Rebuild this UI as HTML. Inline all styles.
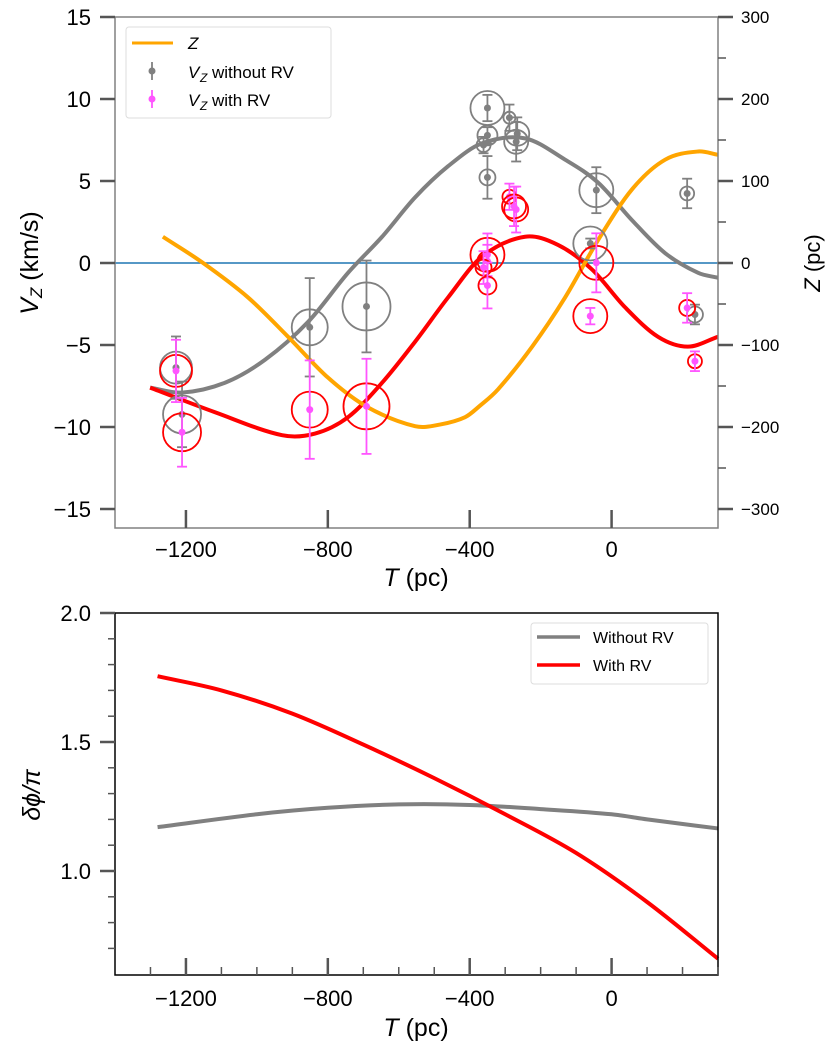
<!DOCTYPE html>
<html><head><meta charset="utf-8"><style>
html,body{margin:0;padding:0;background:#fff}
svg{display:block;font-family:"Liberation Sans","DejaVu Sans",sans-serif}
</style></head><body>
<svg id="fig" width="831" height="1049" viewBox="0 0 831 1049" xmlns="http://www.w3.org/2000/svg">
<g id="top"></g>
<g id="bot"></g>
</svg>
<script>
// ---- data: top panel ----
const grayCurveT = [-1301,-1211,-1090,-977,-856,-743,-647,-554,-461,-365,-244,-131,-38,58,151,244,300];
const grayCurveV = [-7.6,-7.9,-7.3,-5.9,-3.6,-0.6,1.6,4.0,5.9,7.3,7.6,6.3,4.9,2.6,0.6,-0.6,-0.9];
const redCurveT = [-1301,-1118,-929,-836,-743,-647,-554,-461,-365,-244,-151,-55,38,131,215,300];
const redCurveV = [-7.6,-9.1,-10.5,-10.4,-9.4,-7.3,-4.8,-2.1,0.4,1.6,1.1,-0.4,-2.7,-4.5,-5.1,-4.5];
const zCurveT = [-1265,-1155,-1025,-912,-799,-687,-554,-484,-413,-371,-320,-224,-131,-38,58,151,244,300];
const zCurveZ = [32,1,-42,-90,-140,-176,-199,-197,-188,-174,-154,-102,-42,28,90,126,136,132];
const grayT = [-1228,-1211,-851,-691,-350,-288,-350,-361,-266,-269,-350,-43,-60,213,235];
const grayV = [-6.38,-9.23,-3.92,-2.65,9.45,8.86,7.78,7.19,7.88,7.39,5.22,4.44,1.19,4.24,-3.14];
const grayErr = [1.9,2.0,3.0,2.8,0.8,0.8,0.5,0.5,1.0,1.2,1.3,1.4,0.3,0.9,0.6];
const grayR = [16,19,18,24,17,6,10,7,12,12,8,17,17,7,8];
const magT = [-1228,-1211,-851,-691,-288,-269,-275,-350,-350,-361,-350,-43,-60,213,235];
const magV = [-6.58,-10.32,-8.94,-8.74,4.04,3.26,3.45,0.50,0.11,-0.28,-1.37,0.01,-3.24,-2.74,-5.99];
const magErr = [1.9,2.1,3.0,2.9,0.8,1.4,1.2,1.3,1.0,1.0,1.4,1.8,0.5,0.9,0.6];
const magR = [16,19,18,23,7,12,12,17,10,8,9,17,17,8,7];
const xTicks = [-1200,-800,-400,0];
const vTicks = [15,10,5,0,-5,-10,-15];
const zTicks = [300,200,100,0,-100,-200,-300];
// ---- data: bottom panel ----
const phiGrayT = [-1280,-1000,-800,-600,-400,-200,0,100,300];
const phiGrayV = [1.17,1.22,1.245,1.258,1.256,1.24,1.22,1.20,1.165];
const phiRedT = [-1280,-1100,-900,-700,-500,-300,-100,100,300];
const phiRedV = [1.755,1.70,1.61,1.49,1.36,1.22,1.07,0.88,0.66];
const phiTicks = [2.0,1.5,1.0];

const NS="http://www.w3.org/2000/svg";
function mk(parent,tag,attrs,text){const e=document.createElementNS(NS,tag);for(const k in attrs)e.setAttribute(k,attrs[k]);if(text!==undefined)e.textContent=text;parent.appendChild(e);return e;}
const X0=115,X1=718;
const x=T=>X0+(T+1400)*(X1-X0)/1700;
const yV=V=>263-V*16.4;
const yZ=Z=>yV(Z/20);
const yP=v=>871-(v-1)*258;
function smooth(px,py){
  const n=px.length,m=[];
  for(let i=0;i<n;i++){
    const a=i?i-1:0,b=i<n-1?i+1:n-1;
    m.push((py[b]-py[a])/(px[b]-px[a]));
  }
  let d=`M${px[0]},${py[0]}`;
  for(let i=0;i<n-1;i++){
    const h=(px[i+1]-px[i])/3;
    d+=`C${px[i]+h},${py[i]+m[i]*h} ${px[i+1]-h},${py[i+1]-m[i+1]*h} ${px[i+1]},${py[i+1]}`;
  }
  return d;
}

const topG=document.getElementById('top');
const TB=528,TT=17;
let e=mk(topG,'line',{x1:X0,x2:X1,y1:yV(0),y2:yV(0),stroke:'#1f77b4','stroke-width':1.5});


e=mk(topG,'path',{d:smooth(grayCurveT.map(x),grayCurveV.map(yV)),fill:'none',stroke:'#808080','stroke-width':4});


e=mk(topG,'path',{d:smooth(redCurveT.map(x),redCurveV.map(yV)),fill:'none',stroke:'#ff0000','stroke-width':4});


e=mk(topG,'path',{d:smooth(zCurveT.map(x),zCurveZ.map(yZ)),fill:'none',stroke:'#ffa500','stroke-width':4});


function points(Ts,Vs,Es,Rs,circ,col,name){
  for(let i=0;i<Ts.length;i++){
    const g=mk(topG,'g',{});
    
    
    const cx=x(Ts[i]),cy=yV(Vs[i]),y1=yV(Vs[i]+Es[i]),y2=yV(Vs[i]-Es[i]);
    mk(g,'circle',{cx:cx,cy:cy,r:Rs[i],fill:'none',stroke:circ,'stroke-width':1.8});
    mk(g,'line',{x1:cx,x2:cx,y1:y1,y2:y2,stroke:col,'stroke-width':1.8});
    mk(g,'line',{x1:cx-5,x2:cx+5,y1:y1,y2:y1,stroke:col,'stroke-width':1.8});
    mk(g,'line',{x1:cx-5,x2:cx+5,y1:y2,y2:y2,stroke:col,'stroke-width':1.8});
    mk(g,'circle',{cx:cx,cy:cy,r:3.5,fill:col});
  }
}
points(grayT,grayV,grayErr,grayR,'#808080','#808080','vz-without-rv-point');
points(magT,magV,magErr,magR,'#ff0000','#ff55ff','vz-with-rv-point');
e=mk(topG,'rect',{x:X0,y:TT,width:X1-X0,height:TB-TT,fill:'none',stroke:'#808080','stroke-width':1.5});


for(const t of xTicks){
  e=mk(topG,'line',{x1:x(t),x2:x(t),y1:TB,y2:TB-18,stroke:'#555','stroke-width':2.5});
  
  
  e=mk(topG,'text',{x:x(t),y:557,'text-anchor':'middle','font-size':22},String(t).replace('-','\u2212'));
  
  
}
for(const t of vTicks){
  e=mk(topG,'line',{x1:X0,x2:X0-15,y1:yV(t),y2:yV(t),stroke:'#555','stroke-width':2.5});
  
  
  e=mk(topG,'text',{x:91,y:yV(t)+8,'text-anchor':'end','font-size':22},String(t).replace('-','\u2212'));
  
  
}
for(let z=-300;z<=300;z+=50){
  const major=z%100===0;
  e=mk(topG,'line',{x1:X1,x2:X1+(major?15:8),y1:yZ(z),y2:yZ(z),stroke:'#555','stroke-width':major?2.5:1.5});
  
  
}
for(const t of zTicks){
  e=mk(topG,'text',{x:741,y:yZ(t)+6,'font-size':17},String(t).replace('-','\u2212'));
  
  
}
e=mk(topG,'text',{x:416,y:586,'text-anchor':'middle','font-size':25});


e.innerHTML='<tspan font-style="italic">T</tspan> (pc)';
e=mk(topG,'text',{transform:'translate(38,263) rotate(-90)','text-anchor':'middle','font-size':25});


e.innerHTML='<tspan font-style="italic">V</tspan><tspan font-style="italic" font-size="17" dy="4">Z</tspan><tspan dy="-4"> (km/s)</tspan>';
e=mk(topG,'text',{transform:'translate(820,263) rotate(-90)','text-anchor':'middle','font-size':22});


e.innerHTML='<tspan font-style="italic">Z</tspan> (pc)';
const lg=mk(topG,'g',{});


mk(lg,'rect',{x:126,y:27,width:205,height:91,rx:3,fill:'#fff',stroke:'#ddd','stroke-width':1});
mk(lg,'line',{x1:132,x2:173,y1:43,y2:43,stroke:'#ffa500','stroke-width':3});
mk(lg,'text',{x:188,y:49,'font-size':17,'font-style':'italic'},'Z');
mk(lg,'line',{x1:152,x2:152,y1:62,y2:80,stroke:'#808080','stroke-width':1.8});
mk(lg,'circle',{cx:152,cy:71,r:3.5,fill:'#808080'});
mk(lg,'text',{x:188,y:78,'font-size':17,'font-style':'italic'},'V');
mk(lg,'text',{x:200,y:82,'font-size':12,'font-style':'italic'},'Z');
mk(lg,'text',{x:212,y:78,'font-size':17},'without RV');
mk(lg,'line',{x1:152,x2:152,y1:90,y2:108,stroke:'#ff55ff','stroke-width':1.8});
mk(lg,'circle',{cx:152,cy:99,r:3.5,fill:'#ff55ff'});
mk(lg,'text',{x:188,y:106,'font-size':17,'font-style':'italic'},'V');
mk(lg,'text',{x:200,y:110,'font-size':12,'font-style':'italic'},'Z');
mk(lg,'text',{x:212,y:106,'font-size':17},'with RV');

// ---- bottom ----
const botG=document.getElementById('bot');
const BT=613,BB=975;
e=mk(botG,'path',{d:smooth(phiGrayT.map(x),phiGrayV.map(yP)),fill:'none',stroke:'#808080','stroke-width':4});


e=mk(botG,'path',{d:smooth(phiRedT.map(x),phiRedV.map(yP)),fill:'none',stroke:'#ff0000','stroke-width':4});


e=mk(botG,'rect',{x:X0,y:BT,width:X1-X0,height:BB-BT,fill:'none',stroke:'#000','stroke-width':1.5});


for(let t=-1300;t<=300;t+=100){
  const major=t%400===0;
  e=mk(botG,'line',{x1:x(t),x2:x(t),y1:BB,y2:BB-(major?17:8),stroke:'#555','stroke-width':major?2.5:1.5});
  
  
}
for(const t of xTicks){
  e=mk(botG,'text',{x:x(t),y:1006,'text-anchor':'middle','font-size':22},String(t).replace('-','\u2212'));
  
  
}
for(let k=7;k<=20;k++){
  const v=k/10,major=k%5===0;
  e=mk(botG,'line',{x1:X0,x2:X0-(major?15:7),y1:yP(v),y2:yP(v),stroke:'#555','stroke-width':major?2.5:1.5});
  
  
}
for(const t of phiTicks){
  e=mk(botG,'text',{x:91,y:yP(t)+8,'text-anchor':'end','font-size':22},t.toFixed(1));
  
  
}
e=mk(botG,'text',{x:416,y:1036,'text-anchor':'middle','font-size':25});


e.innerHTML='<tspan font-style="italic">T</tspan> (pc)';
e=mk(botG,'text',{transform:'translate(40,795) rotate(-90)','text-anchor':'middle','font-size':25,'font-style':'italic'},'\u03b4\u03d5/\u03c0');


const lb=mk(botG,'g',{});


mk(lb,'rect',{x:531,y:623,width:177,height:61,rx:3,fill:'#fff',stroke:'#ddd','stroke-width':1});
mk(lb,'line',{x1:537,x2:580,y1:637,y2:637,stroke:'#808080','stroke-width':3.5});
mk(lb,'text',{x:593,y:643,'font-size':16},'Without RV');
mk(lb,'line',{x1:537,x2:580,y1:665,y2:665,stroke:'#ff0000','stroke-width':3.5});
mk(lb,'text',{x:593,y:671,'font-size':16},'With RV');
</script>
</body></html>
